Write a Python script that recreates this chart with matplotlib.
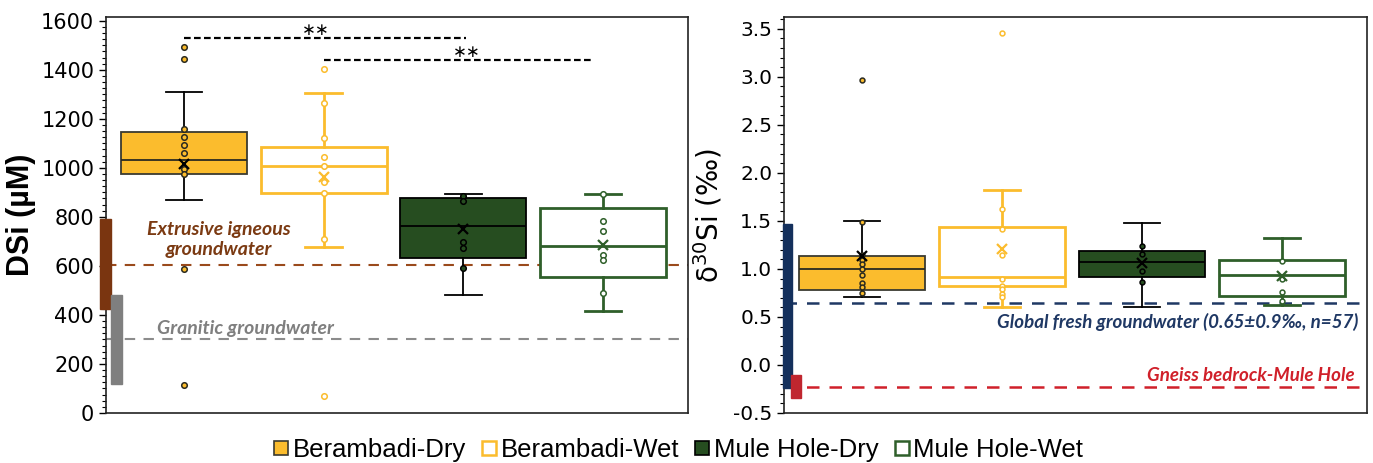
import matplotlib
matplotlib.use("Agg")
import matplotlib.pyplot as plt
from matplotlib.ticker import AutoMinorLocator, MultipleLocator
from matplotlib.patches import Rectangle
from matplotlib.lines import Line2D

# === Data ===
groups = ['Berambadi-Dry', 'Berambadi-Wet', 'Mule Hole-Dry', 'Mule Hole-Wet']

# DSi (uM)
dsi_q1 = [975, 896, 633, 556]
dsi_med = [1032, 1009, 764, 682]
dsi_q3 = [1147, 1086, 878, 837]
dsi_lo = [870, 677, 481, 415]
dsi_hi = [1308, 1306, 895, 892]
dsi_mean = [1016, 964, 751, 685]
dsi_points = [
    [1157, 1126, 1095, 1061, 994, 975],
    [1266, 1123, 1043, 1009, 944, 896, 708],
    [885, 866, 696, 674, 593],
    [892, 782, 744, 644, 624, 488],
]
dsi_outliers = [[1494, 1442, 587, 114], [1403, 69], [], []]

# d30Si (permil)
d30_q1 = [0.785, 0.823, 0.920, 0.720]
d30_med = [1.00, 0.917, 1.076, 0.940]
d30_q3 = [1.134, 1.432, 1.187, 1.093]
d30_lo = [0.709, 0.608, 0.605, 0.622]
d30_hi = [1.502, 1.820, 1.474, 1.318]
d30_mean = [1.135, 1.211, 1.066, 0.93]
d30_points = [
    [1.487, 1.141, 1.09, 1.048, 0.996, 0.941, 0.858, 0.816, 0.747],
    [1.62, 1.42, 1.14, 0.893, 0.823, 0.79, 0.737, 0.709],
    [1.235, 1.152, 0.978, 0.864],
    [1.087, 0.893, 0.765, 0.668],
]
d30_outliers = [[2.964], [3.455], [], []]

# reference values
extrusive_line = 605
extrusive_range = (425, 790)
granitic_line = 300
granitic_range = (118, 481)
global_gw_line = 0.65
global_gw_range = (-0.243, 1.47)
gneiss_line = -0.23
gneiss_range = (-0.347, -0.10)

# significance bars: x from, x to, line level
sig_x0 = [1.0, 2.0]
sig_x1 = [3.02, 3.91]
sig_y = [1531, 1438]
sig_labels = ['∗∗', '∗∗']

# === Styles ===
gold = '#FBBC2D'
dgreen = '#264D20'
green = '#2F5F2A'
brown = '#9A4A1C'
navy = '#1F3864'
red = '#D0202A'

box_face = [gold, 'white', dgreen, 'white']
box_edge = ['#3A3A30', gold, 'black', green]
whisk_col = ['black', gold, 'black', green]
pt_face = [gold, 'white', dgreen, 'white']
pt_edge = ['#2A2A20', gold, 'black', green]
mean_col = ['black', gold, 'black', green]
box_lw = [1.3, 2.0, 1.3, 2.0]

ital = dict(family='Lato', style='italic', weight='bold')

fig = plt.figure(figsize=(13.73, 4.63), dpi=100)
ax1 = fig.add_axes([0.0772, 0.108, 0.4239, 0.8546])
ax2 = fig.add_axes([0.571, 0.108, 0.4246, 0.8546])


def draw_boxes(ax, q1, med, q3, lo, hi, mean, points, outliers, ms):
    for i in range(len(groups)):
        pos = i + 1
        stats = [dict(med=med[i], q1=q1[i], q3=q3[i], whislo=lo[i], whishi=hi[i],
                      fliers=outliers[i], label=groups[i])]
        ax.bxp(stats, positions=[pos], widths=0.9, capwidths=0.26,
               patch_artist=True, showfliers=True,
               boxprops=dict(facecolor=box_face[i], edgecolor=box_edge[i], linewidth=box_lw[i]),
               medianprops=dict(color=box_edge[i] if i != 0 else '#2A2A20', linewidth=box_lw[i]),
               whiskerprops=dict(color=whisk_col[i], linewidth=box_lw[i]),
               capprops=dict(color=whisk_col[i], linewidth=box_lw[i]),
               flierprops=dict(marker='o', markersize=ms, markerfacecolor=pt_face[i],
                               markeredgecolor=pt_edge[i], markeredgewidth=1.1, linestyle='none'),
               zorder=3)
        ax.plot([pos] * len(points[i]), points[i], 'o', ms=ms, mfc=pt_face[i],
                mec=pt_edge[i], mew=1.1, zorder=4)
        ax.plot([pos], [mean[i]], 'x', ms=7, mew=1.6, color=mean_col[i], zorder=5)


# === Left panel: DSi ===
draw_boxes(ax1, dsi_q1, dsi_med, dsi_q3, dsi_lo, dsi_hi, dsi_mean, dsi_points, dsi_outliers, 4)
ax1.set_xlim(0.443, 4.607)
ax1.set_ylim(0, 1614)
ax1.axhline(extrusive_line, color=brown, lw=1.5, ls=(0, (5, 4)), zorder=2)
ax1.axhline(granitic_line, color='#8C8C8C', lw=1.5, ls=(0, (5, 4)), zorder=2)
tr1 = ax1.get_yaxis_transform()
ax1.add_patch(Rectangle((-0.0103, extrusive_range[0]), 0.019, extrusive_range[1] - extrusive_range[0],
                        transform=tr1, color='#7A3510', clip_on=False, zorder=6))
ax1.add_patch(Rectangle((0.0086, granitic_range[0]), 0.019, granitic_range[1] - granitic_range[0],
                        transform=tr1, color='#7F7F7F', clip_on=False, zorder=6))
ax1.text(1.25, 708, 'Extrusive igneous\ngroundwater', color='#7B3A12', fontsize=14,
         ha='center', va='center', linespacing=1.2, **ital)
ax1.text(1.44, 343, 'Granitic groundwater', color='#7F7F7F', fontsize=14,
         ha='center', va='center', **ital)
for i in range(len(sig_y)):
    ax1.plot([sig_x0[i], sig_x1[i]], [sig_y[i], sig_y[i]], color='black', lw=1.6,
             ls=(0, (3, 1.5)), zorder=4)
for tx, ty, lab in [(1.943, 1564, sig_labels[0]), (3.027, 1472, sig_labels[1])]:
    ax1.text(tx, ty, lab, ha='center', va='center', fontsize=12)
ax1.yaxis.set_major_locator(MultipleLocator(200))
ax1.yaxis.set_minor_locator(AutoMinorLocator(8))
ax1.set_ylabel('DSi (µM)', fontsize=22, fontweight='bold', family='Liberation Sans', labelpad=4)

# === Right panel: d30Si ===
draw_boxes(ax2, d30_q1, d30_med, d30_q3, d30_lo, d30_hi, d30_mean, d30_points, d30_outliers, 3.5)
ax2.set_xlim(0.443, 4.607)
ax2.set_ylim(-0.5, 3.62)
ax2.axhline(global_gw_line, color=navy, lw=1.8, ls=(0, (5, 4)), zorder=2)
ax2.axhline(gneiss_line, color=red, lw=1.8, ls=(0, (5, 4)), zorder=2)
tr2 = ax2.get_yaxis_transform()
ax2.add_patch(Rectangle((-0.002, global_gw_range[0]), 0.0157, global_gw_range[1] - global_gw_range[0],
                        transform=tr2, color='#14305C', clip_on=False, zorder=6))
ax2.add_patch(Rectangle((0.012, gneiss_range[0]), 0.017, gneiss_range[1] - gneiss_range[0],
                        transform=tr2, color='#C0262F', clip_on=False, zorder=6))
ax2.text(0.986, 0.446, 'Global fresh groundwater (0.65±0.9‰, n=57)', transform=tr2,
         color=navy, fontsize=13.5, ha='right', va='center', **ital)
ax2.text(0.979, -0.105, 'Gneiss bedrock-Mule Hole', transform=tr2,
         color=red, fontsize=13.5, ha='right', va='center', **ital)
ax2.yaxis.set_major_locator(MultipleLocator(0.5))
ax2.yaxis.set_minor_locator(AutoMinorLocator(5))
ax2.yaxis.set_major_formatter(plt.FormatStrFormatter('%.1f'))
ax2.set_ylabel(r'δ$^{30}$Si (‰)', fontsize=20, labelpad=6)

for ax, ls in ((ax1, 15), (ax2, 14.5)):
    ax.set_xticks([])
    ax.tick_params(axis='y', which='major', labelsize=ls, length=5, width=1)
    ax.tick_params(axis='y', which='minor', length=3, width=0.8)
    for s in ax.spines.values():
        s.set_linewidth(1.2)
        s.set_color('#222222')

# === Legend ===
handles = [Line2D([], [], marker='s', ls='none', ms=10, mfc=box_face[i], mec=box_edge[i],
                  mew=1.8 if box_face[i] == 'white' else 1.2) for i in range(4)]
fig.legend(handles, groups, loc='center', bbox_to_anchor=(0.493, 0.028), ncol=4, frameon=False,
           prop=dict(family='Liberation Sans', size=18.5), handletextpad=0.05, columnspacing=0.5,
           handlelength=0.8)

fig.savefig('out.png', dpi=100)
